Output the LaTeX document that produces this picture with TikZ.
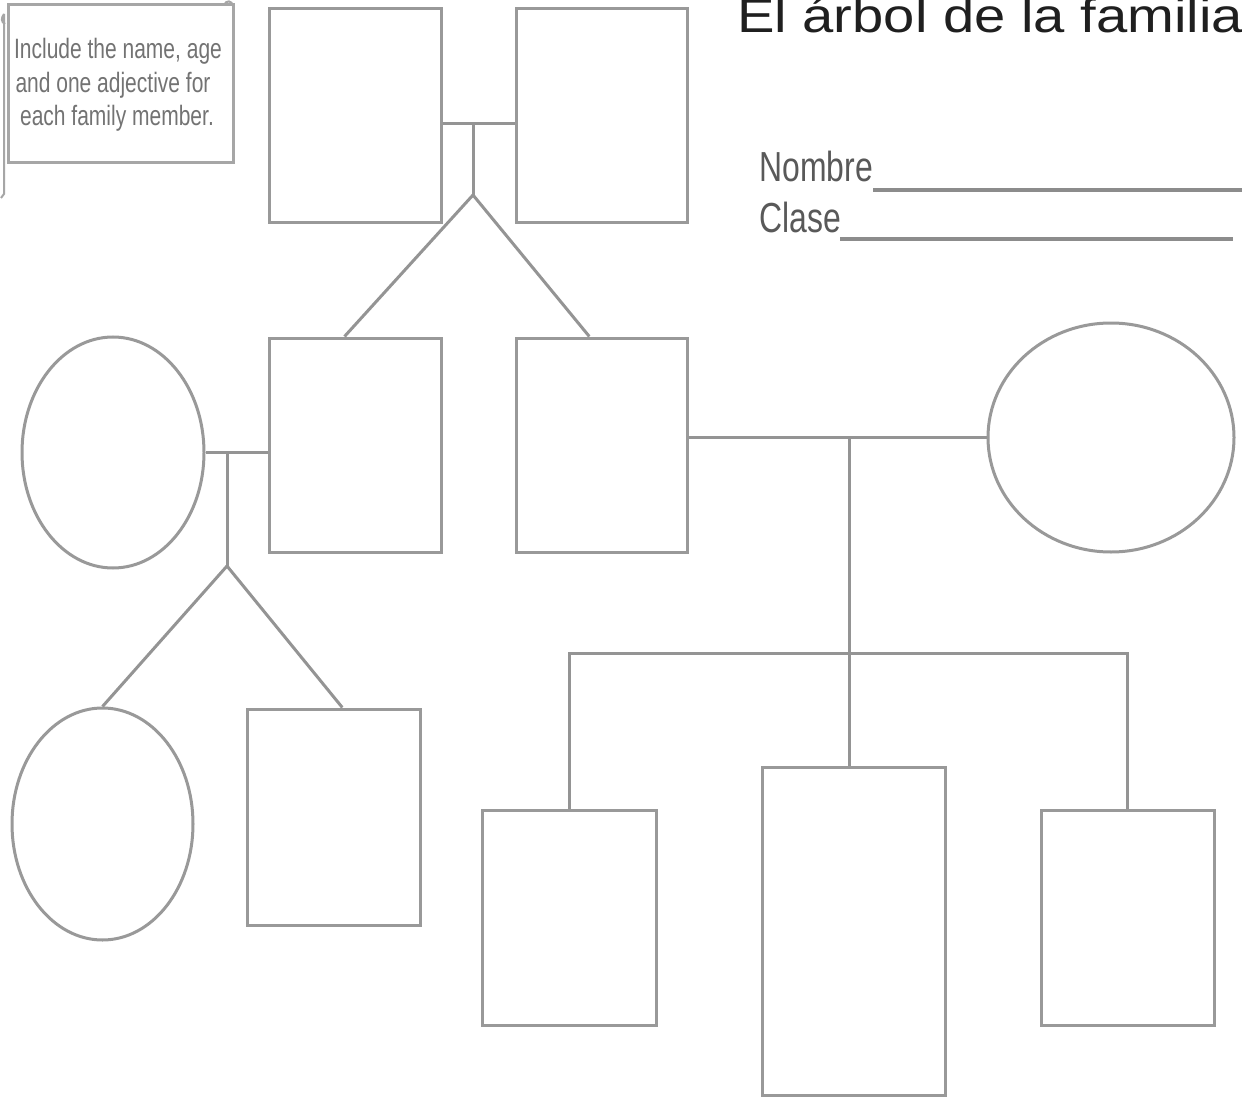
\documentclass[tikz,border=0pt]{standalone}
\usepackage{fontspec}
\setmainfont{Liberation Sans}
\usetikzlibrary{shapes.geometric,calc}
\def\u{0.75pt}
\tikzset{
  ln/.style={draw=black!40, line width=3*\u},
  box/.style={ln, rectangle, inner sep=0pt, fill=white},
  oval/.style={ln, ellipse, inner sep=0pt, fill=white},
  conn/.style={draw=black!42, line width=3*\u},
  rule/.style={draw=black!45, line width=4*\u},
  notetxt/.style={anchor=base, inner sep=0pt, text=black!55},
  lbl/.style={anchor=base west, inner sep=0pt, text=black!65},
}
\begin{document}
\begin{tikzpicture}[x=\u, y=-\u]
\useasboundingbox (0,0) rectangle (1242,1098);
\fill[white] (0,0) rectangle (1242,1098);

% note box (scroll)
\node[draw=black!35, line width=3*\u, rectangle, inner sep=0pt, minimum width=225*\u, minimum height=158*\u] (note) at (120.5,84) {};
\draw[draw=black!35, line width=2*\u] (4,14) -- (4,194) -- (1,198);
\draw[draw=black!35, line width=2*\u] (4,14) .. controls (1,18) and (1,22) .. (5,24);
\draw[draw=black!35, line width=2*\u] (224,5) .. controls (226,0) and (232,0) .. (233,6);
\node[notetxt] (nt1) at (118,59) {\scalebox{0.75}[1]{\fontsize{21}{21}\selectfont Include the name, age}};
\node[notetxt] (nt2) at (113,93) {\scalebox{0.75}[1]{\fontsize{21}{21}\selectfont and one adjective for}};
\node[notetxt] (nt3) at (117,126) {\scalebox{0.75}[1]{\fontsize{21}{21}\selectfont each family member.}};

% title and fields
\node[anchor=base west, inner sep=0pt, text=black!88] (title) at (737,33) {\scalebox{1.17}[1]{\fontsize{36}{36}\selectfont El árbol de la familia}};
\node[lbl] (nombre) at (759,182) {\scalebox{0.76}[1]{\fontsize{31.5}{31.5}\selectfont Nombre}};
\node[lbl] (clase) at (759,233) {\scalebox{0.76}[1]{\fontsize{31.5}{31.5}\selectfont Clase}};
\coordinate (n1) at (873,190); \coordinate (n2) at (1242,190);
\coordinate (c1a) at (840,239); \coordinate (c2a) at (1233,239);
\draw[rule] (n1) -- (n2);
\draw[rule] (c1a) -- (c2a);

% people
\node[box, minimum width=172*\u, minimum height=214*\u] (gp1) at (355,116) {};
\node[box, minimum width=171*\u, minimum height=214*\u] (gp2) at (601.5,116) {};
\node[box, minimum width=172*\u, minimum height=214*\u] (p1) at (355,445) {};
\node[box, minimum width=171*\u, minimum height=214*\u] (p2) at (601.5,445) {};
\node[oval, minimum width=182*\u, minimum height=231*\u] (e1) at (113,452.5) {};
\node[oval, minimum width=246*\u, minimum height=229*\u] (e2) at (1111,437.5) {};
\node[oval, minimum width=181*\u, minimum height=232*\u] (ch1) at (102.5,824) {};
\node[box, minimum width=173*\u, minimum height=216*\u] (ch2) at (333.5,817) {};
\node[box, minimum width=174*\u, minimum height=215*\u] (k1) at (569,917.5) {};
\node[box, minimum width=183*\u, minimum height=328*\u] (k2) at (853.5,931) {};
\node[box, minimum width=173*\u, minimum height=215*\u] (k3) at (1127.5,917.5) {};

% connectors: grandparents
\coordinate (j1) at (473,124);
\coordinate (a1) at (473,195);
\draw[conn] (gp1.east |- j1) -- (gp2.west |- j1);
\draw[conn] (j1) -- (a1);
\draw[conn] (a1) -- ($(p1.north west)!0.44!(p1.north east)$);
\draw[conn] (a1) -- ($(p2.north west)!0.43!(p2.north east)$);

% connectors: left couple
\coordinate (j2) at (227,453);
\coordinate (a2) at (227,566);
\draw[conn] (e1.east) -- (e1.east -| p1.west);
\draw[conn] (j2) -- (a2);
\draw[conn] (a2) -- (ch1.north);
\draw[conn] (a2) -- ($(ch2.north west)!0.55!(ch2.north east)$);

% connectors: right couple
\coordinate (j3) at (849,437.5);
\coordinate (j4) at (849,653);
\draw[conn] (e2.west -| p2.east) -- (e2.west);
\draw[conn] (j3) -- (j3 |- k2.north);
\draw[conn] (k1.north) -- (k1.north |- j4) -- (k3.north |- j4) -- (k3.north);
\end{tikzpicture}
\end{document}
